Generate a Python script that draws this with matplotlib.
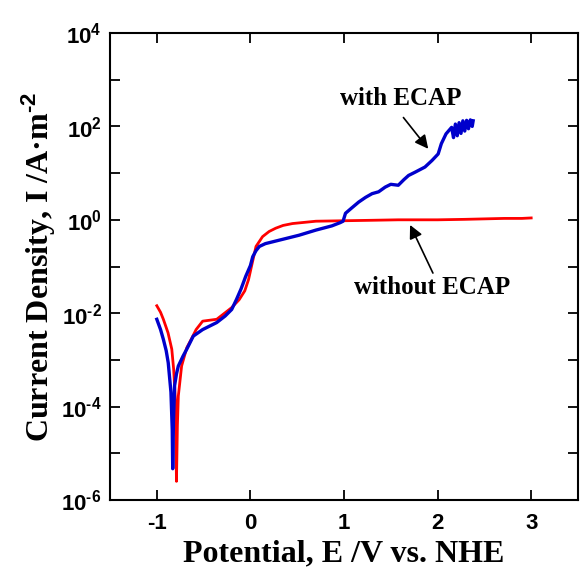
import numpy as np
import matplotlib
matplotlib.use("Agg")
import matplotlib.pyplot as plt
from matplotlib.ticker import FuncFormatter, FixedLocator

# Data
with_x = [-1.00, -0.96, -0.93, -0.90, -0.878, -0.849, -0.835, -0.83, -0.822, -0.81, -0.79, -0.77,
          -0.72, -0.68, -0.61, -0.51, -0.36, -0.27, -0.20, -0.15, -0.10, -0.05, 0.00, 0.025,
          0.06, 0.096, 0.16, 0.24, 0.40, 0.52, 0.70, 0.87, 0.96, 0.99, 1.016, 1.08, 1.157,
          1.23, 1.30, 1.37, 1.44, 1.50, 1.58, 1.64, 1.69, 1.76, 1.865, 1.94, 2.006, 2.04,
          2.09, 2.15, 2.17, 2.19, 2.21, 2.23, 2.25, 2.27, 2.29, 2.31, 2.33, 2.35, 2.37, 2.38]
with_y = [-2.13, -2.35, -2.56, -2.80, -3.06, -3.69, -4.5, -5.33, -4.3, -3.55, -3.30, -3.13,
          -2.92, -2.77, -2.49, -2.35, -2.20, -2.06, -1.92, -1.71, -1.48, -1.21, -0.98, -0.79,
          -0.66, -0.57, -0.51, -0.47, -0.39, -0.33, -0.22, -0.13, -0.06, -0.03, 0.14, 0.25, 0.38,
          0.48, 0.56, 0.60, 0.70, 0.76, 0.74, 0.86, 0.95, 1.02, 1.13, 1.27, 1.41, 1.63,
          1.84, 1.98, 1.76, 2.05, 1.80, 2.08, 1.85, 2.12, 1.90, 2.13, 1.95, 2.14, 2.00, 2.12]

without_x = [-1.00, -0.96, -0.93, -0.88, -0.84, -0.82, -0.80, -0.79, -0.78, -0.77, -0.735, -0.68,
             -0.63, -0.58, -0.51, -0.36, -0.27, -0.20, -0.12, -0.06, -0.02, 0.02, 0.06, 0.13,
             0.20, 0.27, 0.35, 0.45, 0.70, 1.00, 1.30, 1.58, 2.00, 2.29, 2.50, 2.71, 2.90, 3.00]
without_y = [-1.84, -1.98, -2.13, -2.42, -2.77, -3.20, -3.9, -5.60, -4.4, -3.77, -3.13, -2.74,
             -2.55, -2.35, -2.17, -2.13, -1.99, -1.88, -1.71, -1.52, -1.28, -0.92, -0.57, -0.36,
             -0.25, -0.18, -0.12, -0.08, -0.03, -0.02, -0.01, 0.00, 0.00, 0.01, 0.02, 0.03, 0.03, 0.04]

x_ticks = [-1, 0, 1, 2, 3]
y_label_exps = [-6, -4, -2, 0, 2, 4]

plt.rcParams['mathtext.fontset'] = 'custom'
plt.rcParams['mathtext.rm'] = 'Liberation Sans:bold'
plt.rcParams['mathtext.bf'] = 'Liberation Sans:bold'
plt.rcParams['mathtext.it'] = 'Liberation Sans:bold'

fig = plt.figure(figsize=(5.83, 5.79), dpi=100)
ax = fig.add_axes([0.1887, 0.1364, 0.8027, 0.8066])

ax.plot(without_x, 10 ** np.array(without_y), color='#ff0000', lw=2.0, zorder=2)
ax.plot(with_x, 10 ** np.array(with_y), color='#0000cc', lw=2.4, zorder=3)

ax.set_yscale('log')
ax.set_xlim(-1.5, 3.5)
ax.set_ylim(1e-6, 1e4)

ax.xaxis.set_major_locator(FixedLocator(x_ticks))
ax.yaxis.set_major_locator(FixedLocator([10.0 ** e for e in range(-6, 5)]))
ax.yaxis.set_minor_locator(FixedLocator([]))

def yfmt(v, pos):
    e = int(round(np.log10(v)))
    if e in y_label_exps:
        if e < 0:
            return r'$\mathbf{10^{\text{-}%d}}$' % (-e)
        return r'$\mathbf{10^{%d}}$' % e
    return ''
ax.yaxis.set_major_formatter(FuncFormatter(yfmt))
ax.xaxis.set_major_formatter(FuncFormatter(lambda v, p: '%d' % v))

ax.tick_params(which='major', direction='in', length=7, width=1.3,
               top=True, right=True)
ax.tick_params(axis='y', labelsize=16, pad=6)
ax.tick_params(axis='x', labelsize=16, pad=9)
for lab in ax.get_xticklabels():
    lab.set_fontfamily('Liberation Sans')
    lab.set_fontweight('bold')
for sp in ax.spines.values():
    sp.set_linewidth(1.5)

ax.set_xlabel('Potential, E /V vs. NHE', fontsize=23, fontweight='bold',
              fontfamily='Liberation Serif', labelpad=4)
ax.set_ylabel('Current Density, I /A\u00b7m$^{\\text{-2}}$', fontsize=23, fontweight='bold',
              fontfamily='Liberation Serif', labelpad=2)

ax.text(1.61, 10 ** 2.59, 'with ECAP', fontsize=18, fontweight='bold',
        fontfamily='Liberation Serif', ha='center', va='center')
ax.text(1.94, 10 ** -1.46, 'without ECAP', fontsize=18, fontweight='bold',
        fontfamily='Liberation Serif', ha='center', va='center')
ax.annotate('', xy=(1.90, 10 ** 1.52), xytext=(1.635, 10 ** 2.19),
            arrowprops=dict(arrowstyle='-|>', color='black', lw=1.2, mutation_scale=20,
                            shrinkA=0, shrinkB=0))
ax.annotate('', xy=(1.706, 10 ** -0.11), xytext=(1.95, 10 ** -1.14),
            arrowprops=dict(arrowstyle='-|>', color='black', lw=1.2, mutation_scale=20,
                            shrinkA=0, shrinkB=0))

fig.savefig('out.png', dpi=100)
